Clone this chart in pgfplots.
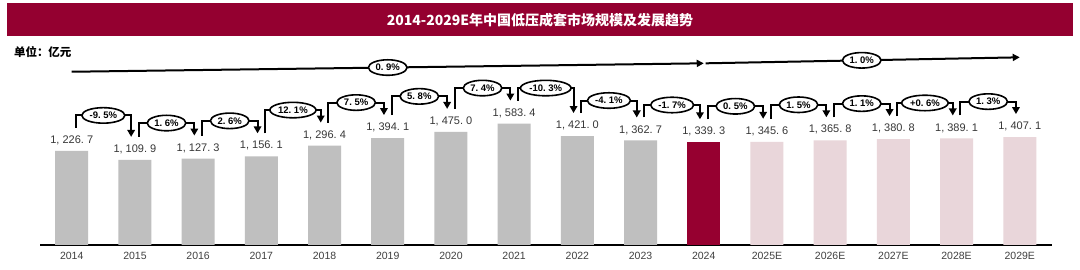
\documentclass[border=0pt]{standalone}
\usepackage{pgfplots}
\pgfplotsset{compat=1.18}
\usepackage{fontspec}
\setmainfont{Liberation Sans}
\newfontfamily\cjk{Noto Sans CJK SC}
\usetikzlibrary{arrows.meta,shapes.geometric}
\definecolor{titlered}{RGB}{148,0,48}
\definecolor{barred}{RGB}{150,0,48}
\definecolor{bargray}{RGB}{191,191,191}
\definecolor{barpink}{RGB}{233,214,218}
\definecolor{txtgray}{RGB}{55,55,55}
\definecolor{tickgray}{RGB}{64,64,64}
\tikzset{
  oval/.style={ellipse, draw=black, line width=1.6pt, fill=white, inner xsep=1.5pt, inner ysep=0pt,
    minimum height=15.5pt, font=\bfseries\fontsize{9.5}{10}\selectfont},
  garr/.style={line width=2pt, -{Triangle[length=7pt,width=7.5pt]}},
}
% #1 index of first year, #2 its value, #3 next value, #4 growth label
\newcommand\growth[4]{%
  \draw[garr] ([yshift=23pt]axis cs:{#1+0.06},#2) -- ([yshift=35.5pt]axis cs:{#1+0.06},{max(#2,#3)})
     -- ([yshift=35.5pt]axis cs:{#1+0.94},{max(#2,#3)}) -- ([yshift=23pt]axis cs:{#1+0.94},#3);
  \node[oval] at ([yshift=35.5pt]axis cs:{#1+0.5},{max(#2,#3)}) {#4};
}
\pgfplotstableread{
x y
0 1226.7
1 1109.9
2 1127.3
3 1156.1
4 1296.4
5 1394.1
6 1475.0
7 1583.4
8 1421.0
9 1362.7
}\hist
\pgfplotstableread{
x y
10 1339.3
}\cur
\pgfplotstableread{
x y
11 1345.6
12 1365.8
13 1380.8
14 1389.1
15 1407.1
}\fcst
\begin{document}
\begin{tikzpicture}
\useasboundingbox (0,0) rectangle (1080pt,270pt);
\fill[white] (0,0) rectangle (1080pt,270pt);
\fill[titlered] (7pt,234pt) rectangle (1073pt,266.6pt);
\node[text=white,font=\cjk\bfseries\fontsize{14}{16}\selectfont] at (540pt,250.3pt) {2014-2029E年中国低压成套市场规模及发展趋势};
\node[anchor=west,inner sep=0pt,font=\cjk\bfseries\fontsize{11.5}{13}\selectfont] at (13.8pt,218.3pt) {单位：亿元};
\begin{axis}[
  at={(40pt,25pt)}, anchor=south west,
  scale only axis, width=1012pt, height=199.4pt,
  xmin=-0.502, xmax=15.51, ymin=0, ymax=2600,
  clip=false,
  ybar, bar width=33pt,
  hide y axis,
  axis x line*=bottom,
  x axis line style={line width=1.8pt, black},
  xtick={0,...,15},
  xticklabels={2014,2015,2016,2017,2018,2019,2020,2021,2022,2023,2024,2025E,2026E,2027E,2028E,2029E},
  major tick length=0pt,
  xticklabel style={font=\fontsize{10.5}{12}\selectfont, text=tickgray, anchor=center, yshift=-11pt},
  /pgf/number format/assume math mode=true,
  nodes near coords={\pgfmathprintnumber[fixed,fixed zerofill,precision=1,1000 sep={,\ },dec sep={.\ }]{\pgfplotspointmeta}},
  every node near coord/.append style={font=\fontsize{11}{12}\selectfont, text=txtgray, anchor=center, yshift=10.5pt},
]
\addplot[fill=bargray, draw=none, bar shift=0pt] table[x=x,y=y] {\hist};
\addplot[fill=barred, draw=none, bar shift=0pt] table[x=x,y=y] {\cur};
\addplot[fill=barpink, draw=none, bar shift=0pt] table[x=x,y=y] {\fcst};

\growth{0}{1226.7}{1109.9}{-9.\ 5\%}
\growth{1}{1109.9}{1127.3}{1.\ 6\%}
\growth{2}{1127.3}{1156.1}{2.\ 6\%}
\growth{3}{1156.1}{1296.4}{12.\ 1\%}
\growth{4}{1296.4}{1394.1}{7.\ 5\%}
\growth{5}{1394.1}{1475.0}{5.\ 8\%}
\growth{6}{1475.0}{1583.4}{7.\ 4\%}
\growth{7}{1583.4}{1421.0}{-10.\ 3\%}
\growth{8}{1421.0}{1362.7}{-4.\ 1\%}
\growth{9}{1362.7}{1339.3}{-1.\ 7\%}
\growth{10}{1339.3}{1345.6}{0.\ 5\%}
\growth{11}{1345.6}{1365.8}{1.\ 5\%}
\growth{12}{1365.8}{1380.8}{1.\ 1\%}
\growth{13}{1380.8}{1389.1}{+0.\ 6\%}
\growth{14}{1389.1}{1407.1}{1.\ 3\%}

\draw[line width=2pt, -{Triangle[length=7pt,width=7pt]}] (axis cs:0,2259) -- (axis cs:10,2369);
\node[oval] at (axis cs:5,2314) {0.\ 9\%};
\draw[line width=2pt, -{Triangle[length=7pt,width=7pt]}] (axis cs:10.03,2369) -- (axis cs:15,2447);
\node[oval] at (axis cs:12.5,2408) {1.\ 0\%};
\end{axis}
\end{tikzpicture}
\end{document}
